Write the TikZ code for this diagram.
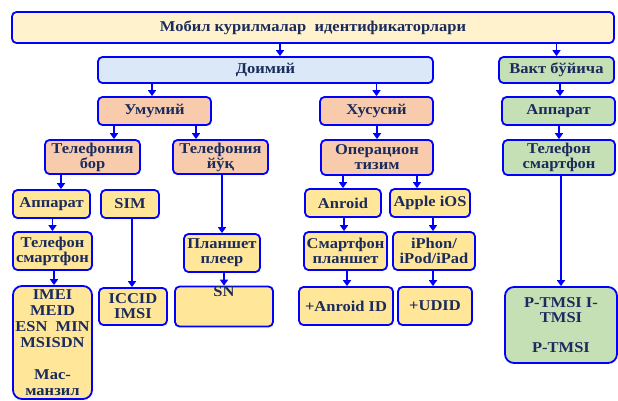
\documentclass[tikz,border=0pt]{standalone}
\usepackage{fontspec}
\setmainfont{Liberation Serif}[BoldFont={Liberation Serif Bold}]
\newfontfamily\boxfont{Liberation Serif Bold}[FakeStretch=1.1]
\usetikzlibrary{arrows.meta}
\definecolor{bordblue}{RGB}{0,0,255}
\definecolor{txt}{RGB}{26,43,92}
\definecolor{fcream}{RGB}{255,242,204}
\definecolor{fblue}{RGB}{218,232,248}
\definecolor{fsalmon}{RGB}{248,203,173}
\definecolor{fyellow}{RGB}{255,230,153}
\definecolor{fgreen}{RGB}{197,224,180}
\begin{document}
\begin{tikzpicture}[x=1pt,y=-1pt,
  box/.style={draw=bordblue, line width=1.8pt, rounded corners=4.5pt, align=center,
    inner sep=0pt, text=txt, font=\boxfont\fontsize{15}{15}\selectfont},
  bigbox/.style={box, rounded corners=9pt},
  arr/.style={draw=bordblue, line width=1.8pt, -{Triangle[width=8pt,length=6pt]}}]
\fill[white] (0,0) rectangle (618,400);
\useasboundingbox (0,0) rectangle (618,400);
% level 0
\node[box, fill=fcream, minimum width=602pt, minimum height=31pt] (top) at (313,27.5) {Мобил курилмалар \ идентификаторлари};
% level 1
\node[box, fill=fblue, minimum width=335pt, minimum height=26pt] (dom) at (265.5,70) {Доимий};
\node[box, fill=fgreen, minimum width=115pt, minimum height=26pt] (vakt) at (556.5,70) {Вакт бўйича};
% level 2
\node[box, fill=fsalmon, minimum width=113pt, minimum height=28pt] (umum) at (154.5,111) {Умумий};
\node[box, fill=fsalmon, minimum width=113pt, minimum height=28pt] (xus) at (376.5,111) {Хусусий};
\node[box, fill=fgreen, minimum width=113pt, minimum height=28pt] (gapp) at (558.5,111) {Аппарат};
% level 3
\node[box, fill=fsalmon, minimum width=95pt, minimum height=34pt] (tbor) at (92.5,157) {Телефония\\бор};
\node[box, fill=fsalmon, minimum width=95pt, minimum height=34pt] (tyuq) at (220.5,157) {Телефония\\йўқ};
\node[box, fill=fsalmon, minimum width=112pt, minimum height=35pt] (opt) at (377,157.5) {Операцион\\тизим};
\node[box, fill=fgreen, minimum width=112pt, minimum height=35pt] (gtel) at (559,157.5) {Телефон\\смартфон};
% level 4
\node[box, fill=fyellow, minimum width=77pt, minimum height=28pt] (app) at (51.5,204) {Аппарат};
\node[box, fill=fyellow, minimum width=58pt, minimum height=28pt] (sim) at (130,204) {SIM};
\node[box, fill=fyellow, minimum width=76pt, minimum height=28pt] (anr) at (343,203) {Anroid};
\node[box, fill=fyellow, minimum width=80pt, minimum height=28pt] (ios) at (430,203) {Apple iOS};
% level 5
\node[box, fill=fyellow, minimum width=79pt, minimum height=38pt] (tel) at (52.5,251) {Телефон\\смартфон};
\node[box, fill=fyellow, minimum width=76pt, minimum height=38pt] (plan) at (222,253) {Планшет\\плеер};
\node[box, fill=fyellow, minimum width=83pt, minimum height=38pt] (smp) at (345.5,251) {Смартфон\\планшет};
\node[box, fill=fyellow, minimum width=82pt, minimum height=38pt] (iph) at (434,251) {iPhon/\\iPod/iPad};
% level 6
\node[bigbox, fill=fyellow, minimum width=79pt, minimum height=113pt,
  font=\boxfont\fontsize{15}{16}\selectfont] (imei) at (52.5,342.5) {IMEI\\MEID\\ESN\ \ MIN\\MSISDN\\[16pt]Mac-\\манзил};
\node[box, fill=fyellow, minimum width=68pt, minimum height=37pt] (iccid) at (133,306.5) {ICCID\\IMSI};
\node[box, fill=fyellow, minimum width=98pt, minimum height=37pt] (sn) at (224,306.5) {SN\\[15pt]};
\node[box, fill=fyellow, minimum width=94pt, minimum height=38pt] (aid) at (346,306) {+Anroid ID};
\node[box, fill=fyellow, minimum width=74pt, minimum height=38pt] (udid) at (435,306) {+UDID};
\node[bigbox, fill=fgreen, minimum width=112pt, minimum height=76pt] (ptmsi) at (561,325) {P-TMSI I-\\TMSI\\[15pt]P-TMSI};
% connectors
\draw[arr] ([xshift=14.5pt]dom.north |- top.south) -- ([xshift=14.5pt]dom.north);
\draw[arr] (vakt.north |- top.south) -- (vakt.north);
\draw[arr] ([xshift=-2.5pt]umum.north |- dom.south) -- ([xshift=-2.5pt]umum.north);
\draw[arr] (xus.north |- dom.south) -- (xus.north);
\draw[arr] ([xshift=1.5pt]gapp.north |- vakt.south) -- ([xshift=1.5pt]gapp.north);
\draw[arr] ([xshift=21.5pt]tbor.north |- umum.south) -- ([xshift=21.5pt]tbor.north);
\draw[arr] ([xshift=-24.5pt]tyuq.north |- umum.south) -- ([xshift=-24.5pt]tyuq.north);
\draw[arr] (opt.north |- xus.south) -- (opt.north);
\draw[arr] (gtel.north |- gapp.south) -- (gtel.north);
\draw[arr] ([xshift=9.5pt]app.north |- tbor.south) -- ([xshift=9.5pt]app.north);
\draw[arr] (plan.north |- tyuq.south) -- (plan.north);
\draw[arr] ([xshift=-1pt]iccid.north |- sim.south) -- ([xshift=-1pt]iccid.north);
\draw[arr] (anr.north |- opt.south) -- (anr.north);
\draw[arr] ([xshift=-13pt]ios.north |- opt.south) -- ([xshift=-13pt]ios.north);
\draw[arr] (ptmsi.north |- gtel.south) -- (ptmsi.north);
\draw[arr] (tel.north |- app.south) -- (tel.north);
\draw[arr] ([xshift=-1.5pt]smp.north |- anr.south) -- ([xshift=-1.5pt]smp.north);
\draw[arr] ([xshift=-1pt]iph.north |- ios.south) -- ([xshift=-1pt]iph.north);
\draw[arr] ([xshift=1.5pt]imei.north |- tel.south) -- ([xshift=1.5pt]imei.north);
\draw[arr] (sn.north |- plan.south) -- (sn.north);
\draw[arr] ([xshift=1pt]aid.north |- smp.south) -- ([xshift=1pt]aid.north);
\draw[arr] ([xshift=-2pt]udid.north |- iph.south) -- ([xshift=-2pt]udid.north);
\end{tikzpicture}
\end{document}
